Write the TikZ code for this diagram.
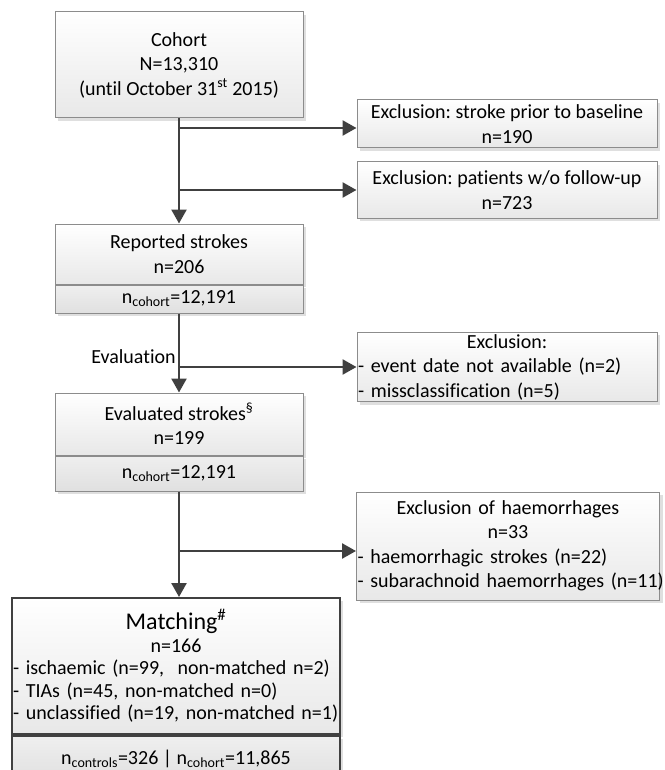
\documentclass[tikz,border=0pt]{standalone}
\usepackage{fontspec}
\setmainfont[Ligatures=NoCommon]{Carlito}
\usetikzlibrary{arrows.meta,positioning,shadows}
\definecolor{boxline}{HTML}{8C8C8C}
\definecolor{flowline}{HTML}{404040}
\definecolor{boxbottom}{HTML}{E8E8E8}
\definecolor{footfill}{HTML}{E0E0E0}
\newcommand{\ctrline}[1]{\leavevmode\hfill{#1}\hfill\null}
\frenchspacing

\begin{document}
\begin{tikzpicture}[x=1pt,y=-1pt,>={Triangle[length=14pt,width=15pt]},
  font=\fontsize{20}{24.5}\selectfont\frenchspacing,
  flow node/.style={rectangle,draw=boxline,line width=1pt,top color=white,bottom color=boxbottom,
    drop shadow={shadow xshift=3pt,shadow yshift=-3pt,opacity=0.25},align=center,inner sep=2pt},
  foot node/.style={flow node,top color=boxbottom!70,bottom color=footfill},
  main node/.style={draw=flowline,line width=2pt},
  flow line/.style={draw=flowline,line width=2.5pt}]
\useasboundingbox (0,0) rectangle (664,770);
\clip (0,0) rectangle (664,770);

% main column
\node[flow node,minimum width=248pt,minimum height=106pt] (cohort) at (179,65)
  {Cohort\\N=13,310\\(until October 31\textsuperscript{st} 2015)};
\node[flow node,minimum width=248pt,minimum height=60pt] (reported) at (179,254)
  {Reported strokes\\n=206};
\node[foot node,minimum width=248pt,minimum height=28pt,below=0pt of reported] (reportedn)
  {n\textsubscript{cohort}=12,191};
\node[flow node,minimum width=248pt,minimum height=62pt] (evaluated) at (179,424)
  {Evaluated strokes\textsuperscript{\S}\\n=199};
\node[foot node,minimum width=248pt,minimum height=35pt,below=0pt of evaluated] (evaluatedn)
  {n\textsubscript{cohort}=12,191};
\node[flow node,main node,minimum width=328pt,minimum height=136pt,text width=326pt,inner xsep=1pt,align=left,
  font=\fontsize{20}{22.5}\selectfont\frenchspacing] (matching) at (176,666)
  {\ctrline{\fontsize{24}{26}\selectfont Matching\textsuperscript{\#}}\\
   \ctrline{n=166}\\
   \mbox{- ischaemic (n=99,\ \ non-matched n=2)}\\
   \mbox{- TIAs (n=45, non-matched n=0)}\\
   \mbox{- unclassified (n=19, non-matched n=1)}};
\node[foot node,main node,minimum width=328pt,minimum height=46pt,below=0pt of matching] (matchingn)
  {n\textsubscript{controls}=326 | n\textsubscript{cohort}=11,865};

% exclusions
\node[flow node,minimum width=300pt,minimum height=48pt] (stroke) at (507,124)
  {Exclusion: stroke prior to baseline\\n=190};
\node[flow node,minimum width=300pt,minimum height=56pt] (followup) at (507,190)
  {Exclusion: patients w/o follow-up\\n=723};
\node[flow node,minimum width=300pt,minimum height=68pt,text width=298pt,inner xsep=1pt,align=left] (misclass) at (507,367)
  {\ctrline{Exclusion:}\\
   \mbox{- event date not available (n=2)}\\
   \mbox{- missclassification (n=5)}};
\node[flow node,minimum width=303pt,minimum height=108pt,text width=301pt,inner xsep=1pt,align=left] (haemo) at (508,546)
  {\ctrline{Exclusion of haemorrhages}\\
   \ctrline{n=33}\\
   \mbox{- haemorrhagic strokes (n=22)}\\
   \mbox{- subarachnoid haemorrhages (n=11)}};
\coordinate (strokein) at ([yshift=-4pt]stroke.west);
\coordinate (haemoin) at ([yshift=-5pt]haemo.west);

% connectors
\draw[flow line,->] (cohort) -- (reported);
\draw[flow line,->] (cohort.south |- strokein) -- (strokein);
\draw[flow line,->] (cohort.south |- followup.west) -- (followup.west);
\draw[flow line,->] (reportedn) -- (evaluated);
\draw[flow line,->] (reportedn.south |- misclass.west) -- node[pos=0,anchor=south east,inner sep=2pt] {Evaluation} (misclass.west);
\draw[flow line,->] (evaluatedn) -- (evaluatedn.south |- matching.north);
\draw[flow line,->] (evaluatedn.south |- haemoin) -- (haemoin);
\end{tikzpicture}
\end{document}
